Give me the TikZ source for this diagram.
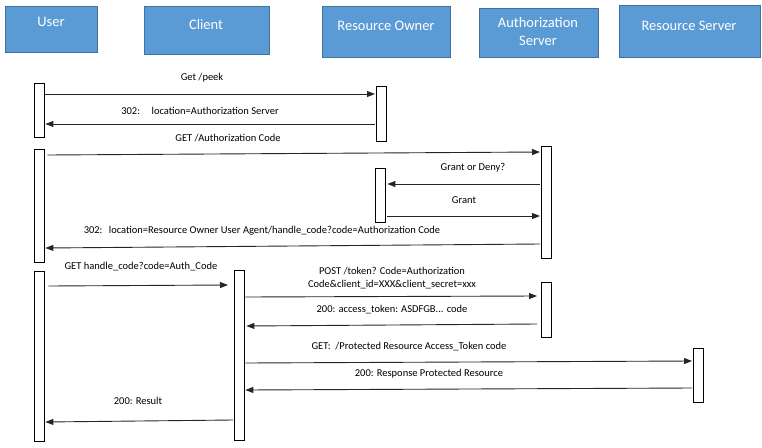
\documentclass[tikz,border=0pt]{standalone}
\usepackage{fontspec}
\setmainfont{Carlito}
\usetikzlibrary{arrows.meta}
\definecolor{hdrfill}{HTML}{5B9BD5}
\definecolor{hdrdraw}{HTML}{41719C}
\definecolor{msgline}{HTML}{262626}
\tikzset{
  hdr/.style={draw=hdrdraw, line width=1.1pt, fill=hdrfill, anchor=north west, inner sep=0pt},
  hdrtext/.style={text=white, font=\fontsize{14.5}{17}\selectfont, align=center},
  bar/.style={draw=black, line width=0.9pt, fill=white, anchor=north west, minimum width=9.5pt, inner sep=0pt},
  msg/.style={draw=msgline, line width=0.9pt, -{Triangle[length=8pt,width=6pt]}},
  lbl/.style={font=\fontsize{10.5}{13}\selectfont, text=black, align=center, inner sep=0pt}
}
\begin{document}
\begin{tikzpicture}[x=1pt,y=-1pt]
\useasboundingbox (0,0) rectangle (762,447);
% headers
\node[hdr, minimum width=92pt, minimum height=46pt] (hUser) at (5,6) {};
\node[hdrtext] (tUser) at (51,22) {User};
\node[hdr, minimum width=125pt, minimum height=48pt] (hClient) at (144,6) {};
\node[hdrtext] (tClient) at (206,25) {Client};
\node[hdr, minimum width=128pt, minimum height=51pt] (hRO) at (322,6) {};
\node[hdrtext] (tRO) at (386,26) {Resource Owner};
\node[hdr, minimum width=119pt, minimum height=49pt] (hAS) at (479,8) {};
\node[hdrtext] (tAS) at (538,32) {Authorization\\[1pt]Server};
\node[hdr, minimum width=141pt, minimum height=52pt] (hRS) at (619,5) {};
\node[hdrtext] (tRS) at (689,26) {Resource Server};
% activation bars
\node[bar, minimum height=54pt] (ub1) at (34,83) {};
\node[bar, minimum height=55pt] (rb1) at (376,86) {};
\node[bar, minimum height=113pt] (ub2) at (34,149) {};
\node[bar, minimum height=112pt] (ab1) at (541,146) {};
\node[bar, minimum height=54pt] (rb2) at (375,168) {};
\node[bar, minimum height=170pt] (ub3) at (34,271) {};
\node[bar, minimum height=170pt] (cb) at (234,270) {};
\node[bar, minimum height=55pt] (ab2) at (541,282) {};
\node[bar, minimum height=54pt] (sb) at (693,348) {};
% messages
\draw[msg] ([xshift=1pt]ub1.east|-0,94) -- ([xshift=-1pt]rb1.west|-0,94);
\node[lbl] (l1) at (202,78) {Get /peek};
\draw[msg] ([xshift=-1pt]rb1.west|-0,124) -- ([xshift=1pt]ub1.east|-0,124);
\node[lbl] (l2) at (200,111) {302:\hspace{1.1em}location=Authorization Server};
\draw[msg] ([xshift=3pt]ub2.east|-0,155) -- ([xshift=-1pt]ab1.west|-0,152);
\node[lbl] (l3) at (228,138) {GET /Authorization Code};
\draw[msg] ([xshift=-1pt]ab1.west|-0,184) -- ([xshift=2pt]rb2.east|-0,184);
\node[lbl] (l4) at (473,168) {Grant or Deny?};
\draw[msg] ([xshift=2pt]rb2.east|-0,216) -- ([xshift=-1pt]ab1.west|-0,216);
\node[lbl] (l5) at (464,200) {Grant};
\draw[msg] ([xshift=-1pt]ab1.west|-0,244) -- ([xshift=1pt]ub2.east|-0,248);
\node[lbl] (l6) at (262,231) {302:\hspace{0.6em}location=Resource Owner User Agent/handle\_code?code=Authorization Code};
\draw[msg] ([xshift=4pt]ub3.east|-0,286) -- ([xshift=-6pt]cb.west|-0,285);
\node[lbl] (l7) at (141,267) {GET handle\_code?code=Auth\_Code};
\draw[msg] ([xshift=1pt]cb.east|-0,297) -- ([xshift=-4pt]ab2.west|-0,296);
\node[lbl] (l8) at (392,278) {POST /token? Code=Authorization\\Code\&client\_id=XXX\&client\_secret=xxx};
\draw[msg] ([xshift=-4pt]ab2.west|-0,324) -- ([xshift=2pt]cb.east|-0,326);
\node[lbl] (l9) at (392,310) {200: access\_token: ASDFGB... code};
\draw[msg] ([xshift=1pt]cb.east|-0,363) -- ([xshift=-1pt]sb.west|-0,361);
\node[lbl] (l10) at (409,347) {GET:\ \ /Protected Resource Access\_Token code};
\draw[msg] ([xshift=-1pt]sb.west|-0,388) -- ([xshift=1pt]cb.east|-0,390);
\node[lbl] (l11) at (429,374) {200: Response Protected Resource};
\draw[msg] ([xshift=-1pt]cb.west|-0,420) -- ([xshift=1pt]ub3.east|-0,422);
\node[lbl] (l12) at (138,401) {200: Result};
\end{tikzpicture}
\end{document}
